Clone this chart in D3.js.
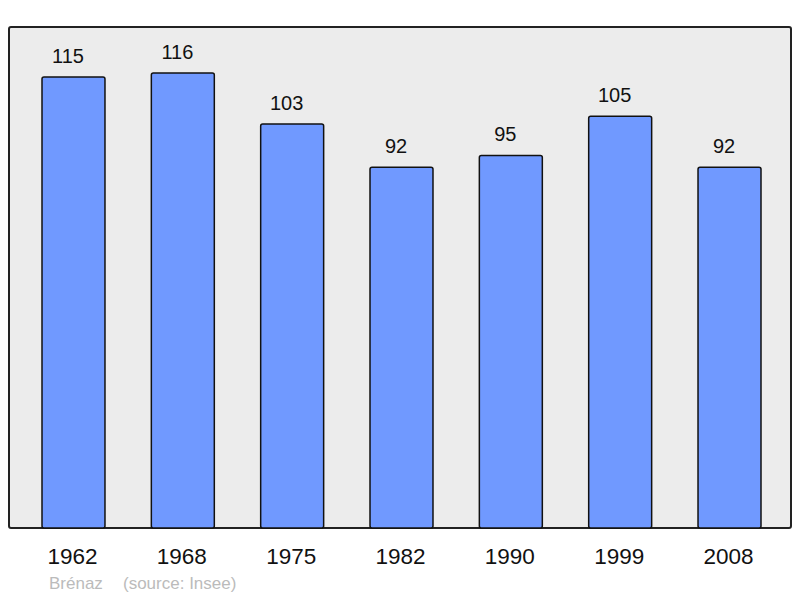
<!DOCTYPE html>
<html>
<head>
<meta charset="utf-8">
<script src="https://cdn.jsdelivr.net/npm/d3@7"></script>
<style>
body { margin: 0; background: #fff; }
text { font-family: "Liberation Sans", Arial, sans-serif; }
</style>
</head>
<body>
<svg class="chart" width="800" height="598"></svg>
<script>
var years = ['1962', '1968', '1975', '1982', '1990', '1999', '2008'];
var population = [115, 116, 103, 92, 95, 105, 92];

var svg = d3.select('svg.chart');

var x = d3.scaleBand()
    .domain(years)
    .range([42, 761])
    .paddingInner(0.424)
    .paddingOuter(0);

var y = d3.scaleLinear()
    .domain([0, 128])
    .range([528, 26]);

// plot frame
svg.append('rect')
    .attr('x', 9)
    .attr('y', 27)
    .attr('width', 782)
    .attr('height', 501)
    .attr('rx', 2)
    .attr('fill', '#ececec')
    .attr('stroke', '#222')
    .attr('stroke-width', 2);

var bars = svg.selectAll('.bar')
    .data(years)
    .enter()
    .append('g')
    .attr('class', 'bar');

bars.append('rect')
    .attr('x', function (d) { return x(d); })
    .attr('y', function (d, i) { return y(population[i]); })
    .attr('width', x.bandwidth())
    .attr('height', function (d, i) { return y(0) - y(population[i]); })
    .attr('rx', 2)
    .attr('fill', '#7099ff')
    .attr('stroke', '#111')
    .attr('stroke-width', 1.5);

bars.append('text')
    .attr('x', function (d) { return x(d) + x.bandwidth() / 2 - 5.5; })
    .attr('y', function (d, i) { return y(population[i]) - 14; })
    .attr('text-anchor', 'middle')
    .attr('font-size', 20)
    .attr('fill', '#111')
    .text(function (d, i) { return population[i]; });

// year labels
svg.append('g')
    .selectAll('text')
    .data(years)
    .enter()
    .append('text')
    .attr('x', function (d) { return x(d) + x.bandwidth() / 2 - 1; })
    .attr('y', 564)
    .attr('text-anchor', 'middle')
    .attr('font-size', 22.5)
    .attr('fill', '#111')
    .text(function (d) { return d; });

svg.append('text')
    .attr('x', 49)
    .attr('y', 589)
    .attr('font-size', 17)
    .attr('fill', '#bbb')
    .text('Brénaz');

svg.append('text')
    .attr('x', 123)
    .attr('y', 589)
    .attr('font-size', 17)
    .attr('fill', '#bbb')
    .text('(source: Insee)');
</script>
</body>
</html>
